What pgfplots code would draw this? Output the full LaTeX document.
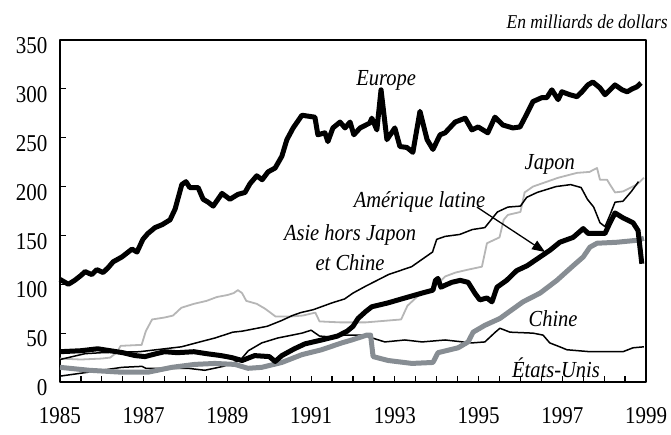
\documentclass[border=0pt]{standalone}
\usepackage{fontspec}
\setmainfont{Liberation Serif}
\usepackage{pgfplots}
\pgfplotsset{compat=1.18}
\usetikzlibrary{arrows.meta}
\definecolor{japon}{RGB}{182,182,182}
\definecolor{chine}{RGB}{135,141,147}
\begin{document}
\begin{tikzpicture}[x=1pt,y=1pt]
\path (0,0) rectangle (671,435);
\begin{axis}[
  at={(60pt,53pt)}, anchor=south west,
  scale only axis, width=586pt, height=342pt,
  xmin=1985, xmax=1999, ymin=0, ymax=350,
  xtick={1985,1987,1989,1991,1993,1995,1997,1999},
  minor x tick num=3,
  ytick={0,50,100,150,200,250,300,350},
  xtick pos=left, ytick pos=left,
  tick align=inside,
  major tick length=6pt, minor tick length=6pt,
  tick style={line width=1.2pt, black},
  axis line style={line width=1.6pt},
  /pgf/number format/assume math mode=true,
  xticklabel style={/pgf/number format/1000 sep={}, yshift=-19pt},
  yticklabel style={xshift=-9pt, yshift=-5pt},
  every tick label/.append style={font=\fontsize{21}{24}\selectfont, yscale=1.15},
  clip=false,
  line join=round,
]
% Japon
\addplot[japon, line width=1.8pt] coordinates {
(1985.0,24) (1985.5,23) (1986.0,24) (1986.2,25) (1986.35,30) (1986.45,37)
(1986.95,38) (1987.05,52) (1987.2,64) (1987.5,66) (1987.7,68) (1987.9,76)
(1988.2,80) (1988.5,83) (1988.75,87) (1989.0,89) (1989.15,91) (1989.25,94)
(1989.35,91) (1989.45,83) (1989.7,80) (1989.9,75) (1990.15,67) (1990.5,67)
(1990.8,68) (1991.1,71) (1991.2,62) (1991.7,61) (1992.3,61) (1993.15,64)
(1993.3,78) (1993.55,88) (1993.9,95) (1994.2,108) (1994.45,112) (1994.75,115)
(1995.08,118) (1995.2,142) (1995.5,148) (1995.6,166) (1995.7,171) (1996.0,174)
(1996.1,194) (1996.3,200) (1996.9,209) (1997.35,214) (1997.65,215) (1997.83,219)
(1997.9,207) (1998.07,207) (1998.14,202) (1998.26,194) (1998.45,195) (1998.78,202)
(1998.95,209)
};
% Asie hors Japon et Chine
\addplot[black, line width=1.5pt] coordinates {
(1985.0,23) (1985.6,29) (1986.0,30) (1986.9,31) (1987.5,34) (1987.9,36)
(1988.34,41) (1988.7,45) (1989.13,51) (1989.35,52) (1989.95,57) (1990.3,63)
(1990.55,68) (1990.75,71) (1991.05,74) (1991.5,81) (1991.8,85) (1992.0,91)
(1992.3,98) (1992.85,110) (1993.4,118) (1993.9,133) (1994.0,146) (1994.2,149)
(1994.55,151) (1994.85,156) (1995.15,158) (1995.45,174) (1995.7,179) (1996.0,180)
(1996.15,189) (1996.4,194) (1996.85,200) (1997.2,202) (1997.45,199) (1997.6,187)
(1997.75,179) (1997.9,163) (1998.02,159) (1998.14,171) (1998.26,184) (1998.45,185)
(1998.65,195) (1998.82,205)
};
% Etats-Unis
\addplot[black, line width=1.5pt] coordinates {
(1985.0,6) (1985.67,10) (1986.48,15) (1986.96,16) (1987.05,14) (1988.06,14)
(1988.46,12) (1988.9,16) (1989.3,22) (1989.5,32) (1989.82,40) (1990.2,45)
(1990.78,50) (1991.0,53) (1991.2,47) (1991.5,46) (1991.8,48) (1992.24,48)
(1992.76,41) (1993.24,43) (1993.65,41) (1994.2,43) (1994.84,40) (1995.15,41)
(1995.4,51) (1995.51,55) (1995.75,51) (1996.3,50) (1996.54,48) (1996.7,40)
(1996.94,36) (1997.11,33) (1997.66,31) (1998.45,31) (1998.69,35) (1998.95,36)
};
% Chine
\addplot[chine, line width=5pt] coordinates {
(1985.0,15) (1985.7,12) (1986.48,10) (1987.1,10) (1987.67,15) (1988.22,18)
(1988.7,19) (1989.18,18) (1989.49,14) (1989.82,15) (1990.3,20) (1990.78,28)
(1991.25,33) (1991.73,40) (1991.97,43) (1992.33,48) (1992.42,48) (1992.48,26)
(1992.84,22) (1993.41,19) (1993.91,20) (1994.03,30) (1994.51,35) (1994.75,41)
(1994.87,51) (1995.15,58) (1995.51,65) (1995.67,70) (1996.06,82) (1996.47,91)
(1996.87,104) (1997.26,119) (1997.5,128) (1997.66,138) (1997.83,142) (1998.3,143)
(1998.78,145) (1998.95,147)
};
% Amerique latine
\addplot[black, line width=5pt] coordinates {
(1985.0,31) (1985.5,32) (1985.9,34) (1986.2,32) (1986.5,30) (1986.8,27)
(1987.03,26) (1987.3,29) (1987.5,31) (1987.8,30) (1988.2,31) (1988.5,29)
(1988.85,27) (1989.1,25) (1989.35,22) (1989.65,27) (1990.0,26) (1990.14,21)
(1990.3,27) (1990.6,34) (1990.85,39) (1991.25,43) (1991.63,47) (1991.86,52)
(1992.0,57) (1992.12,65) (1992.3,72) (1992.45,77) (1992.84,81) (1993.24,86)
(1993.65,91) (1993.91,94) (1993.97,104) (1994.03,106) (1994.1,97) (1994.2,99)
(1994.36,102) (1994.56,104) (1994.75,102) (1994.91,91) (1995.03,84) (1995.2,86)
(1995.32,82) (1995.44,97) (1995.67,104) (1995.91,114) (1996.16,119) (1996.47,128)
(1996.71,135) (1996.94,143) (1997.26,148) (1997.5,157) (1997.62,152) (1998.02,152)
(1998.14,163) (1998.26,173) (1998.45,168) (1998.69,163) (1998.81,155) (1998.9,121)
};
% Europe
\addplot[black, line width=5pt] coordinates {
(1985.0,105) (1985.2,100) (1985.35,104) (1985.5,109) (1985.6,113) (1985.7,111)
(1985.76,110) (1985.88,115) (1986.03,112) (1986.15,117) (1986.27,123) (1986.48,128)
(1986.72,136) (1986.84,133) (1986.98,146) (1987.1,152) (1987.27,158) (1987.44,161)
(1987.63,166) (1987.75,177) (1987.91,202) (1988.01,205) (1988.1,199) (1988.3,199)
(1988.42,187) (1988.54,184) (1988.66,180) (1988.87,193) (1989.06,187) (1989.25,192)
(1989.42,194) (1989.54,203) (1989.7,211) (1989.83,207) (1989.97,215) (1990.14,219)
(1990.3,231) (1990.42,248) (1990.57,260) (1990.78,273) (1991.09,271) (1991.16,253)
(1991.33,255) (1991.4,246) (1991.52,260) (1991.69,266) (1991.81,260) (1991.93,266)
(1992.02,253) (1992.17,260) (1992.4,265) (1992.45,270) (1992.57,258) (1992.67,299)
(1992.81,248) (1993.0,260) (1993.12,241) (1993.29,240) (1993.43,235) (1993.6,277)
(1993.77,248) (1993.91,238) (1994.08,253) (1994.2,255) (1994.44,266) (1994.68,270)
(1994.84,258) (1994.99,261) (1995.22,255) (1995.39,271) (1995.58,263) (1995.82,260)
(1995.99,261) (1996.16,275) (1996.3,287) (1996.51,291) (1996.63,291) (1996.75,299)
(1996.9,289) (1996.99,297) (1997.18,294) (1997.35,292) (1997.47,297) (1997.61,304)
(1997.73,307) (1997.9,301) (1998.02,294) (1998.14,299) (1998.26,304) (1998.43,299)
(1998.55,297) (1998.67,300) (1998.78,302) (1998.88,306)
};
% labels
\begin{scope}[every node/.style={font=\fontsize{20.5}{24}\selectfont\itshape, inner sep=0pt, yscale=1.12}]
\node at (axis cs:1992.79,309) {Europe};
\node at (axis cs:1996.7,223) {Japon};
\node at (axis cs:1993.59,184) {Amérique latine};
\node at (axis cs:1991.93,150) {Asie hors Japon};
\node at (axis cs:1991.93,122) {et Chine};
\node at (axis cs:1996.78,65) {Chine};
\node at (axis cs:1996.85,15) {États-Unis};
\end{scope}
\draw[line width=1.3pt, -{Triangle[length=13pt,width=10pt]}] (axis cs:1994.96,179) -- (axis cs:1996.59,133);
\end{axis}
\node[anchor=east, inner sep=0pt, font=\fontsize{17.5}{20}\selectfont\itshape, yscale=1.12] at (668,413) {En milliards de dollars};
\end{tikzpicture}
\end{document}
